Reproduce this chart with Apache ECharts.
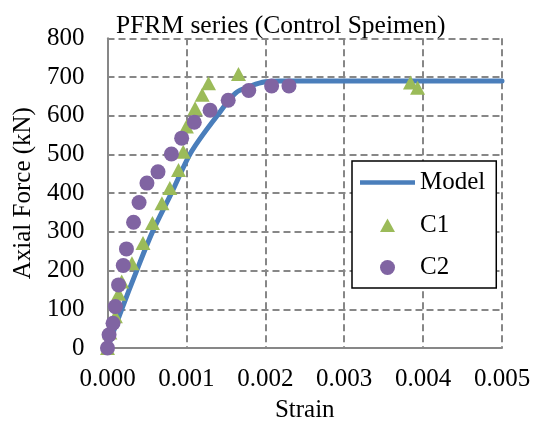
<!DOCTYPE html>
<html>
<head>
<meta charset="utf-8">
<script src="https://cdn.jsdelivr.net/npm/echarts@6/dist/echarts.min.js"></script>
<style>
    html, body { margin: 0; padding: 0; background: #fff; }
    #chart { width: 538px; height: 428px; }
</style>
</head>
<body>
<div id="chart"></div>
<script>
// 模型曲线 [应变, 轴力kN]
var modelData = [
    [0, 0], [0.00018, 100], [0.00037, 200], [0.00057, 300], [0.00081, 400],
    [0.00103, 495], [0.00116, 537], [0.00139, 600], [0.00162, 658], [0.00183, 678],
    [0.00200, 688], [0.00220, 690], [0.00500, 690]
];
// 试件C1
var c1Data = [
    [0, 0], [0.00003, 40], [0.0001, 82], [0.00014, 140], [0.00018, 172],
    [0.00031, 219], [0.00045, 271], [0.00057, 323], [0.00069, 374],
    [0.00079, 413], [0.0009, 460], [0.00096, 507], [0.001, 572],
    [0.00111, 619], [0.0012, 654], [0.00128, 684], [0.00166, 708],
    [0.00384, 686], [0.00393, 672]
];
// 试件C2
var c2Data = [
    [0, 0], [0.00002, 34], [0.00007, 64], [0.0001, 107], [0.00014, 163],
    [0.0002, 213], [0.00024, 256], [0.00033, 325], [0.0004, 376],
    [0.0005, 426], [0.00064, 455], [0.00081, 501], [0.00094, 542],
    [0.0011, 583], [0.0013, 614], [0.00153, 640], [0.00179, 665],
    [0.00208, 677], [0.0023, 677]
];
var seriesNames = ['Model', 'C1', 'C2'];

var font = 'Liberation Serif';
var gridColor = '#878787';
// 图例图标：先用两个M点撑出55x15的框，图形居中
var iconLine = 'path://M0,0M55,15M0,5.25L55,5.25L55,9.75L0,9.75Z';
var iconTri = 'path://M0,0M55,15M20,14.5L27.5,1L35,14.5Z';
var iconDot = 'path://M0,0M55,15M20,7.5A7.5,7.5 0 1 1 35,7.5A7.5,7.5 0 1 1 20,7.5Z';

var chartDom = document.getElementById('chart');
var myChart = echarts.init(chartDom);
var option = {
    animation: false,
    textStyle: { fontFamily: font, color: '#000' },
    title: {
        text: 'PFRM series (Control Speimen)',
        left: 111,
        top: 8,
        textStyle: { fontFamily: font, fontSize: 25.5, fontWeight: 'normal', color: '#000' }
    },
    grid: { left: 107.5, right: 36, top: 38.3, bottom: 79.7 },
    legend: {
        data: [
            { name: seriesNames[0], icon: iconLine },
            { name: seriesNames[1], icon: iconTri },
            { name: seriesNames[2], icon: iconDot }
        ],
        orient: 'vertical',
        left: 352,
        top: 161,
        padding: [9, 11, 8, 8],
        itemGap: 17.5,
        itemWidth: 55,
        itemHeight: 15,
        backgroundColor: '#fff',
        borderColor: '#000',
        borderWidth: 1.5,
        borderRadius: 0,
        textStyle: { fontFamily: font, fontSize: 25, color: '#000' }
    },
    xAxis: {
        type: 'value',
        min: 0,
        max: 0.005,
        interval: 0.001,
        name: 'Strain',
        nameLocation: 'middle',
        nameGap: 50,
        nameTextStyle: { fontFamily: font, fontSize: 25, color: '#000' },
        axisLine: { show: true, onZero: false, lineStyle: { color: gridColor, width: 2 } },
        axisTick: { show: false },
        axisLabel: {
            margin: 19,
            fontFamily: font,
            fontSize: 25,
            color: '#000',
            formatter: function (v) { return v.toFixed(3); }
        },
        splitLine: { show: true, lineStyle: { color: gridColor, width: 2, type: [7, 4] } }
    },
    yAxis: {
        type: 'value',
        min: 0,
        max: 800,
        interval: 100,
        name: 'Axial Force (kN)',
        nameLocation: 'middle',
        nameGap: 63,
        nameTextStyle: { fontFamily: font, fontSize: 25, color: '#000' },
        axisLine: { show: true, lineStyle: { color: gridColor, width: 2 } },
        axisTick: { show: false },
        axisLabel: { margin: 23, fontFamily: font, fontSize: 25, color: '#000' },
        splitLine: { show: true, lineStyle: { color: gridColor, width: 2, type: [7, 4] } }
    },
    series: [{
        name: seriesNames[0],
        type: 'line',
        data: modelData,
        smooth: 0.35,
        showSymbol: false,
        symbol: 'none',
        lineStyle: { color: '#4a7ebb', width: 5, cap: 'round' },
        itemStyle: { color: '#4a7ebb' },
        z: 2
    }, {
        name: seriesNames[1],
        type: 'scatter',
        data: c1Data,
        symbol: 'triangle',
        symbolSize: [15, 14],
        itemStyle: { color: '#9bbb59', opacity: 1 },
        z: 3
    }, {
        name: seriesNames[2],
        type: 'scatter',
        data: c2Data,
        symbol: 'circle',
        symbolSize: 15,
        itemStyle: { color: '#8064a2', opacity: 1 },
        z: 4
    }]
};
option && myChart.setOption(option);
</script>
</body>
</html>
